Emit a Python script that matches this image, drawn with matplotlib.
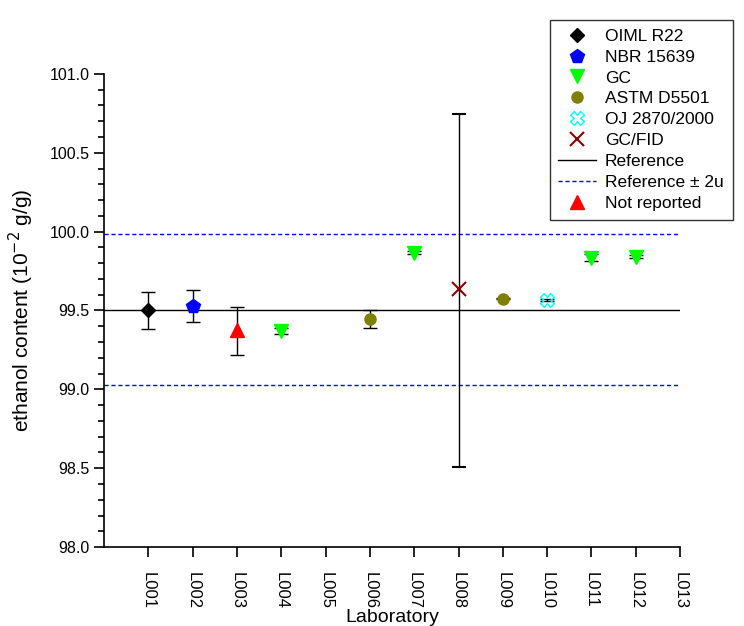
import numpy as np
from matplotlib import pyplot as plt
from matplotlib.ticker import MultipleLocator

plt.rcParams['font.family'] = ['Liberation Sans', 'DejaVu Sans']

labs = ['L001', 'L002', 'L003', 'L004', 'L005', 'L006', 'L007',
        'L008', 'L009', 'L010', 'L011', 'L012', 'L013']

# lab index, value, lower / upper error
oiml_x = [1]
oiml_y = [99.50]
oiml_err = [[0.12], [0.12]]

nbr_x = [2]
nbr_y = [99.53]
nbr_err = [[0.10], [0.10]]

gc_x = [4, 7, 11, 12]
gc_y = [99.37, 99.865, 99.835, 99.84]
gc_err = [[0.02, 0.01, 0.02, 0.01], [0.02, 0.01, 0.02, 0.01]]

astm_x = [6, 9]
astm_y = [99.445, 99.575]
astm_err = [[0.055, 0.005], [0.055, 0.005]]

oj_x = [10]
oj_y = [99.565]
oj_err = [[0.005], [0.005]]

gcfid_x = [8]
gcfid_y = [99.635]
gcfid_err = [[1.125], [1.11]]

notrep_x = [3]
notrep_y = [99.375]
notrep_err = [[0.16], [0.145]]

ref_value = 99.505
ref_2u = 0.477

fig = plt.figure(figsize=(7.44, 6.26), dpi=100)
ax = fig.add_axes([0.14, 0.126, 0.774, 0.756])

ebkw = dict(ecolor='black', elinewidth=1, capsize=5, capthick=1, linestyle='none')
h_oiml = ax.errorbar(oiml_x, oiml_y, yerr=oiml_err, marker='D', ms=7,
                     color='black', **ebkw)
h_nbr = ax.errorbar(nbr_x, nbr_y, yerr=nbr_err, marker='p', ms=10,
                    color='blue', **ebkw)
h_gc = ax.errorbar(gc_x, gc_y, yerr=gc_err, marker='v', ms=10,
                   color='#00ff00', **ebkw)
h_astm = ax.errorbar(astm_x, astm_y, yerr=astm_err, marker='o', ms=8,
                     color='#808000', **ebkw)
h_oj = ax.errorbar(oj_x, oj_y, yerr=oj_err, marker='X', ms=10,
                   mfc='none', mec='cyan', color='cyan', **ebkw)
h_gcfid = ax.errorbar(gcfid_x, gcfid_y, yerr=gcfid_err, marker='x', ms=10,
                      mew=1.5, color='#8b0000', **ebkw)
h_nr = ax.errorbar(notrep_x, notrep_y, yerr=notrep_err, marker='^', ms=10,
                   color='red', **ebkw)

h_ref = ax.axhline(ref_value, color='black', lw=1, zorder=0)
h_2u = ax.axhline(ref_value + ref_2u, color='blue', lw=1, ls=(0, (3, 2)), zorder=0)
ax.axhline(ref_value - ref_2u, color='blue', lw=1, ls=(0, (3, 2)), zorder=0)

for h in [h_oiml, h_nbr, h_gc, h_astm, h_oj, h_gcfid, h_nr]:
    h[0].set_zorder(3)

ax.set_xlim(0, 13)
ax.set_ylim(98.0, 101.0)
ax.set_xticks(np.arange(1, 14))
ax.set_xticklabels(labs, rotation=-90, fontsize=12)
ax.yaxis.set_major_locator(MultipleLocator(0.5))
ax.yaxis.set_minor_locator(MultipleLocator(0.1))
ax.yaxis.set_major_formatter(plt.FormatStrFormatter('%.1f'))
ax.tick_params(axis='y', which='major', direction='out', length=7, width=1.2, labelsize=11.5)
ax.tick_params(axis='y', which='minor', direction='out', length=4, width=1.2)
ax.tick_params(axis='x', which='major', direction='out', length=7, width=1.2, pad=11)
ax.spines['top'].set_visible(False)
ax.spines['right'].set_visible(False)
ax.spines['left'].set_linewidth(1.2)
ax.spines['bottom'].set_linewidth(1.2)

ax.set_xlabel('Laboratory', fontsize=14, labelpad=0)
ax.set_ylabel('ethanol content (10$^{-2}$ g/g)', fontsize=15, labelpad=10)

handles = [h_oiml[0], h_nbr[0], h_gc[0], h_astm[0], h_oj[0], h_gcfid[0],
           h_ref, h_2u, h_nr[0]]
names = ['OIML R22', 'NBR 15639', 'GC', 'ASTM D5501', 'OJ 2870/2000', 'GC/FID',
         'Reference', 'Reference \u00b1 2u', 'Not reported']
leg = fig.legend(handles, names, loc='upper left', bbox_to_anchor=(0.727, 0.982),
                 fontsize=12.5, frameon=True, fancybox=False, edgecolor='black',
                 borderpad=0.5, labelspacing=0.33, handlelength=2.2,
                 handletextpad=0.5)
leg.get_frame().set_linewidth(1)

plt.savefig('out.png', dpi=100)
